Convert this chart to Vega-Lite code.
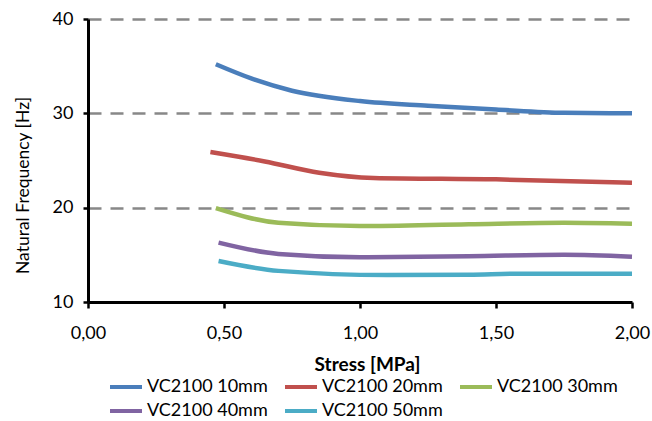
{
  "$schema": "https://vega.github.io/schema/vega-lite/v6.json",
  "width": 544,
  "height": 283,
  "autosize": "none",
  "padding": {"left": 88, "top": 19, "right": 20, "bottom": 119},
  "background": "white",
  "config": {
    "font": "Lato",
    "view": {"stroke": null}
  },
  "data": {
    "values": [
      {"series": "VC2100 10mm", "stress": 0.47, "freq": 35.2},
      {"series": "VC2100 10mm", "stress": 0.6, "freq": 33.7},
      {"series": "VC2100 10mm", "stress": 0.75, "freq": 32.4},
      {"series": "VC2100 10mm", "stress": 1.0, "freq": 31.3},
      {"series": "VC2100 10mm", "stress": 1.25, "freq": 30.8},
      {"series": "VC2100 10mm", "stress": 1.5, "freq": 30.4},
      {"series": "VC2100 10mm", "stress": 1.75, "freq": 30.05},
      {"series": "VC2100 10mm", "stress": 2.0, "freq": 30.0},
      {"series": "VC2100 20mm", "stress": 0.45, "freq": 25.9},
      {"series": "VC2100 20mm", "stress": 0.65, "freq": 24.9},
      {"series": "VC2100 20mm", "stress": 0.85, "freq": 23.7},
      {"series": "VC2100 20mm", "stress": 1.05, "freq": 23.15},
      {"series": "VC2100 20mm", "stress": 1.5, "freq": 23.0},
      {"series": "VC2100 20mm", "stress": 2.0, "freq": 22.65},
      {"series": "VC2100 30mm", "stress": 0.47, "freq": 19.95},
      {"series": "VC2100 30mm", "stress": 0.7, "freq": 18.4},
      {"series": "VC2100 30mm", "stress": 1.0, "freq": 18.05},
      {"series": "VC2100 30mm", "stress": 1.4, "freq": 18.25},
      {"series": "VC2100 30mm", "stress": 1.75, "freq": 18.4},
      {"series": "VC2100 30mm", "stress": 2.0, "freq": 18.3},
      {"series": "VC2100 40mm", "stress": 0.48, "freq": 16.3},
      {"series": "VC2100 40mm", "stress": 0.7, "freq": 15.1},
      {"series": "VC2100 40mm", "stress": 1.0, "freq": 14.75},
      {"series": "VC2100 40mm", "stress": 1.4, "freq": 14.85},
      {"series": "VC2100 40mm", "stress": 1.75, "freq": 15.0},
      {"series": "VC2100 40mm", "stress": 2.0, "freq": 14.8},
      {"series": "VC2100 50mm", "stress": 0.48, "freq": 14.35},
      {"series": "VC2100 50mm", "stress": 0.7, "freq": 13.3},
      {"series": "VC2100 50mm", "stress": 1.1, "freq": 12.85},
      {"series": "VC2100 50mm", "stress": 1.4, "freq": 12.9},
      {"series": "VC2100 50mm", "stress": 1.6, "freq": 13.0},
      {"series": "VC2100 50mm", "stress": 2.0, "freq": 13.0}
    ]
  },
  "mark": {"type": "line", "strokeWidth": 4.5, "interpolate": "monotone"},
  "encoding": {
    "x": {
      "field": "stress",
      "type": "quantitative",
      "scale": {"domain": [0, 2], "nice": false, "zero": false},
      "axis": {
        "values": [0, 0.5, 1, 1.5, 2],
        "labelExpr": "replace(format(datum.value, '.2f'), '.', ',')",
        "labelFlush": false,
        "title": "Stress [MPa]",
        "titleFontSize": 19,
        "titleFontWeight": "bold",
        "titleColor": "#000",
        "titleBaseline": "middle",
        "titleX": 279,
        "titleY": 62,
        "labelFontSize": 18,
        "labelColor": "#000",
        "labelPadding": 16,
        "domainColor": "#000",
        "domainWidth": 3,
        "tickColor": "#000",
        "tickWidth": 2.5,
        "tickSize": 6,
        "grid": false
      }
    },
    "y": {
      "field": "freq",
      "type": "quantitative",
      "scale": {"domain": [10, 40], "nice": false, "zero": false},
      "axis": {
        "values": [10, 20, 30, 40],
        "labelFlush": false,
        "title": "Natural Frequency [Hz]",
        "titleFontSize": 17.5,
        "titleFontWeight": "normal",
        "titleColor": "#000",
        "titleX": -56,
        "titleY": 166,
        "labelFontSize": 18,
        "labelColor": "#000",
        "labelPadding": 10,
        "domainColor": "#000",
        "domainWidth": 3,
        "tickColor": "#000",
        "tickWidth": 2.5,
        "tickSize": 5,
        "grid": true,
        "gridColor": "#888888",
        "gridWidth": 2.5,
        "gridDash": [13, 9]
      }
    },
    "color": {
      "field": "series",
      "type": "nominal",
      "scale": {
        "domain": ["VC2100 10mm", "VC2100 20mm", "VC2100 30mm", "VC2100 40mm", "VC2100 50mm"],
        "range": ["#4A7EBB", "#C0504D", "#9BBB59", "#8064A2", "#4BACC6"]
      },
      "legend": {
        "orient": "none",
        "legendX": 26,
        "legendY": 356,
        "direction": "horizontal",
        "columns": 3,
        "title": null,
        "symbolType": "M-1.6,0H1.6",
        "symbolSize": 400,
        "symbolStrokeWidth": 4,
        "labelFontSize": 18,
        "labelColor": "#000",
        "labelOffset": 9,
        "columnPadding": 9,
        "rowPadding": 3
      }
    }
  }
}
